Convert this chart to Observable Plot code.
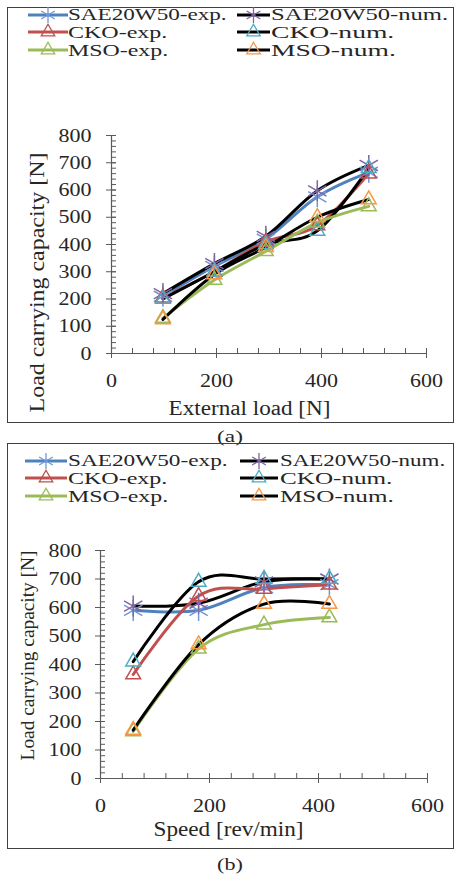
<!DOCTYPE html>
<html><head><meta charset="utf-8">
<script src="https://cdn.jsdelivr.net/npm/d3@7"></script>
<script src="https://cdn.jsdelivr.net/npm/@observablehq/plot@0.6"></script>
<style>
html,body{margin:0;padding:0;background:#fff;}
#page{position:relative;width:457px;height:874px;overflow:hidden;font-family:"Liberation Serif","Times New Roman",serif;color:#262626;}
.box{position:absolute;border:1px solid #404040;box-sizing:border-box;}
.lt{position:absolute;font-size:16px;line-height:17px;white-space:nowrap;transform-origin:0 50%;}
.cap{position:absolute;font-size:17px;line-height:19px;white-space:nowrap;}
.sw{position:absolute;overflow:visible;}
</style></head><body><div id="page"></div>
<script>
// ---- series definitions ----
const seriesNames = ["SAE20W50-exp.", "SAE20W50-num.", "CKO-exp.", "CKO-num.", "MSO-exp.", "MSO-num."];
const lineColors = ["#4F81BD", "#000000", "#C0504D", "#000000", "#9BBB59", "#000000"];
const markerColors = ["#7397D6", "#8064A2", "#C0504D", "#4BACC6", "#9BBB59", "#F79646"];
const markerSymbols = ["asterisk", "asterisk", "triangle", "triangle", "triangle", "triangle"];

// ---- panel (a): load carrying capacity vs external load ----
const externalLoad = [98, 196, 294, 392, 490];
const aSAEexp = [210, 320, 420, 575, 665];
const aSAEnum = [220, 330, 430, 597, 690];
const aCKOexp = [205, 300, 410, 470, 660];
const aCKOnum = [200, 300, 400, 450, 680];
const aMSOexp = [130, 270, 375, 480, 540];
const aMSOnum = [125, 290, 390, 500, 565];

// ---- panel (b): load carrying capacity vs speed ----
const speed = [60, 180, 300, 420];
const bSAEexp = [590, 590, 670, 680];
const bSAEnum = [605, 615, 690, 700];
const bCKOexp = [365, 640, 665, 680];
const bCKOnum = [410, 690, 700, 700];
const bMSOexp = [165, 455, 540, 565];
const bMSOnum = [170, 470, 612, 612];

// ---- axes ----
const xTicks = [0, 200, 400, 600];
const yTicks = [0, 100, 200, 300, 400, 500, 600, 700, 800];
const xMinor = d3.range(0, 601, 40);
const yMinor = d3.range(0, 801, 20);
const yTitle = "Load carrying capacity [N]";

const axisColor = "#5a5a5a";
const textColor = "#262626";
const page = document.getElementById("page");

function makeRows(xs, lists) {
  const rows = [];
  seriesNames.forEach((s, k) => lists[k].forEach((v, i) => rows.push({series: s, x: xs[i], y: v})));
  return rows;
}

function scaleText(t, s) {
  const tr = t.getAttribute("transform") || "";
  const x = +t.getAttribute("x") || 0;
  t.setAttribute("transform", `${tr} translate(${x},0) scale(${s},1) translate(${-x},0)`);
}

// stretch svg texts to the widths seen in the reference
function fitTexts(svg, targets, tickTarget) {
  const texts = Array.from(svg.querySelectorAll("text"));
  const probe = texts.find(t => t.textContent === "800");
  const tickScale = probe ? tickTarget / probe.getComputedTextLength() : 1.1;
  texts.forEach(t => {
    const s = targets[t.textContent] ? targets[t.textContent] / t.getComputedTextLength() : tickScale;
    scaleText(t, s);
  });
}

function symbolPath(k, r) {
  const type = markerSymbols[k] === "asterisk" ? d3.symbolAsterisk : d3.symbolTriangle;
  return d3.symbol(type, Math.PI * r * r)();
}

function legend(rowsY, col1, col2, widths) {
  seriesNames.forEach((s, k) => {
    const col = k % 2 === 0 ? col1 : col2;
    const yc = rowsY[Math.floor(k / 2)];
    const w = col.x2 - col.x1;
    const ns = "http://www.w3.org/2000/svg";
    const sv = document.createElementNS(ns, "svg");
    sv.setAttribute("class", "sw");
    sv.setAttribute("width", w); sv.setAttribute("height", 20);
    sv.style.left = col.x1 + "px"; sv.style.top = (yc - 10) + "px";
    const ln = document.createElementNS(ns, "line");
    ln.setAttribute("x1", 0); ln.setAttribute("x2", w); ln.setAttribute("y1", 10); ln.setAttribute("y2", 10);
    ln.setAttribute("stroke", lineColors[k]); ln.setAttribute("stroke-width", 3);
    sv.appendChild(ln);
    const p = document.createElementNS(ns, "path");
    p.setAttribute("d", symbolPath(k, markerSymbols[k] === "asterisk" ? 7.5 : 5));
    p.setAttribute("transform", `translate(${w / 2},10)`);
    p.setAttribute("fill", "none"); p.setAttribute("stroke", markerColors[k]); p.setAttribute("stroke-width", 1.3);
    sv.appendChild(p);
    page.appendChild(sv);
    const sp = document.createElement("div");
    sp.className = "lt"; sp.textContent = s;
    sp.style.left = col.tx + "px"; sp.style.top = (yc - 8.5) + "px";
    page.appendChild(sp);
    sp.style.transform = `scaleX(${widths[k] / sp.offsetWidth})`;
  });
}

function box(l, t, w, h) {
  const d = document.createElement("div");
  d.className = "box";
  Object.assign(d.style, {left: l + "px", top: t + "px", width: w + "px", height: h + "px"});
  page.appendChild(d);
}

function caption(text, cx, cy, target) {
  const d = document.createElement("div");
  d.className = "cap"; d.textContent = text;
  d.style.left = cx + "px"; d.style.top = (cy - 9.5) + "px";
  page.appendChild(d);
  d.style.transform = `translateX(-50%) scaleX(${target / d.offsetWidth})`;
}

function panel(o) {
  const lines = seriesNames.map((s, k) => Plot.line(o.rows.filter(d => d.series === s),
    {x: "x", y: "y", stroke: lineColors[k], strokeWidth: 3, curve: "cardinal"}));
  const dots = seriesNames.map((s, k) => Plot.dot(o.rows.filter(d => d.series === s),
    {x: "x", y: "y", symbol: markerSymbols[k], r: markerSymbols[k] === "asterisk" ? 10 : 5.5,
     stroke: markerColors[k], fill: "none", strokeWidth: 1.5}));
  const svg = Plot.plot({
    width: o.width, height: o.height,
    marginLeft: o.mL, marginRight: o.mR, marginTop: o.mT, marginBottom: o.mB,
    x: {domain: [0, 600]}, y: {domain: [0, 800]},
    style: {fontFamily: '"Liberation Serif","Times New Roman",serif', fontSize: "19px", color: textColor, background: "transparent", overflow: "visible"},
    marks: [
      Plot.axisY(yMinor, {tickSize: 5, dx: 5, tickFormat: () => "", stroke: axisColor, label: null}),
      Plot.axisY(yTicks, {tickSize: 10, dx: 5, tickFormat: () => "", stroke: axisColor, label: null}),
      Plot.axisY(yTicks, {tickSize: 0, tickPadding: o.yPad, fill: textColor, fontSize: 19, label: null}),
      Plot.axisX(xMinor, {tickSize: 5, dy: -5, tickFormat: () => "", stroke: axisColor, label: null}),
      Plot.axisX(xTicks, {tickSize: 10, dy: -5, tickFormat: () => "", stroke: axisColor, label: null}),
      Plot.axisX(xTicks, {tickSize: 0, tickPadding: o.xPad, fill: textColor, fontSize: 19, label: null}),
      Plot.ruleX([0], {stroke: axisColor, strokeWidth: 1.2}),
      Plot.ruleY([0], {stroke: axisColor, strokeWidth: 1.2}),
      ...lines,
      ...dots,
      Plot.text([o.xTitle], {text: d => d, frameAnchor: "bottom", dx: o.xTdx, dy: o.xTdy, lineAnchor: "middle", fill: textColor, fontSize: 20}),
      Plot.text([yTitle], {text: d => d, frameAnchor: "left", rotate: -90, dx: o.yTdx, dy: o.yTdy, lineAnchor: "middle", textAnchor: "middle", fill: textColor, fontSize: o.yTfs})
    ]
  });
  svg.style.position = "absolute";
  svg.style.left = o.left + "px";
  svg.style.top = o.top + "px";
  page.appendChild(svg);
  fitTexts(svg, {[o.xTitle]: o.xTw, [yTitle]: o.yTw}, 33);
}

// panel (a)
box(7, 7, 447, 416);
panel({rows: makeRows(externalLoad, [aSAEexp, aSAEnum, aCKOexp, aCKOnum, aMSOexp, aMSOnum]),
  left: 8, top: 110, width: 444, height: 312, mL: 103, mR: 26, mT: 25, mB: 69,
  xTitle: "External load [N]", xTdx: -19.5, xTdy: 55, xTw: 162,
  yTdx: -74, yTdy: 38, yTw: 260, yTfs: 20, xPad: 20, yPad: 20});
legend([14.5, 32.25, 50], {x1: 28, x2: 68, tx: 68}, {x1: 237, x2: 270, tx: 271},
  [159, 177, 99, 124, 100, 124]);
caption("(a)", 230, 436.5, 26);

// panel (b)
box(7, 443, 447, 406);
panel({rows: makeRows(speed, [bSAEexp, bSAEnum, bCKOexp, bCKOnum, bMSOexp, bMSOnum]),
  left: 8, top: 515, width: 444, height: 332, mL: 92, mR: 25, mT: 35, mB: 69,
  xTitle: "Speed [rev/min]", xTdx: -35.5, xTdy: 51, xTw: 150,
  yTdx: -72, yTdy: -9, yTw: 210, yTfs: 18, xPad: 20, yPad: 19});
legend([460.5, 478.25, 496], {x1: 25, x2: 67, tx: 68}, {x1: 240, x2: 278, tx: 280},
  [160, 165, 99, 113, 100, 113]);
caption("(b)", 230, 864.5, 26);
</script></body></html>
